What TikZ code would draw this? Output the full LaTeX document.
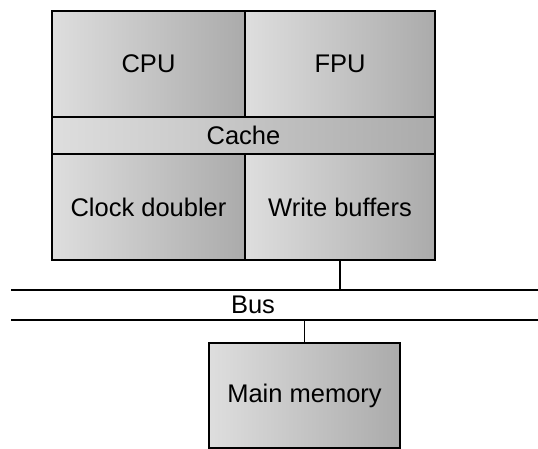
\documentclass[tikz,border=0pt]{standalone}
\usepackage{fontspec}
\setmainfont{Liberation Sans}
\begin{document}
\begin{tikzpicture}[x=1pt, y=-1pt,
    unit/.style={draw, line width=1.8pt, rectangle, inner sep=0pt,
        left color=black!13, right color=black!33, font=\fontsize{25.5}{30}\selectfont},
    wire/.style={line width=1.4pt}]
     \useasboundingbox (0,0) rectangle (538,449);

     % Chip
     \node[unit, minimum width=193pt, minimum height=106pt] (cpu) at (148.5,64) {CPU};
     \node[unit, minimum width=190pt, minimum height=106pt] (fpu) at (340,64) {FPU};
     \node[unit, minimum width=383pt, minimum height=37pt] (cache) at (243.5,135.5) {Cache};
     \node[unit, minimum width=193pt, minimum height=106pt] (clock) at (148.5,207) {Clock doubler};
     \node[unit, minimum width=190pt, minimum height=106pt] (wbuf) at (340,207) {Write buffers};

     % Bus
     \coordinate (busA) at (11,290);
     \coordinate (busB) at (538,290);
     \coordinate (busC) at (11,320);
     \coordinate (busD) at (538,320);
     \draw[wire] (busA) -- (busB);
     \draw[wire] (busC) -- (busD);
     \node[font=\fontsize{25.5}{30}\selectfont] (bus) at (253,305) {Bus};

     % Memory
     \node[unit, minimum width=191pt, minimum height=105pt] (memory) at (304.5,395.5) {Main memory};

     % Connections
     \draw[wire] (wbuf.south) -- (wbuf.south |- busA);
     \draw[wire] (memory.north) -- (memory.north |- busC);

\end{tikzpicture}
\end{document}
